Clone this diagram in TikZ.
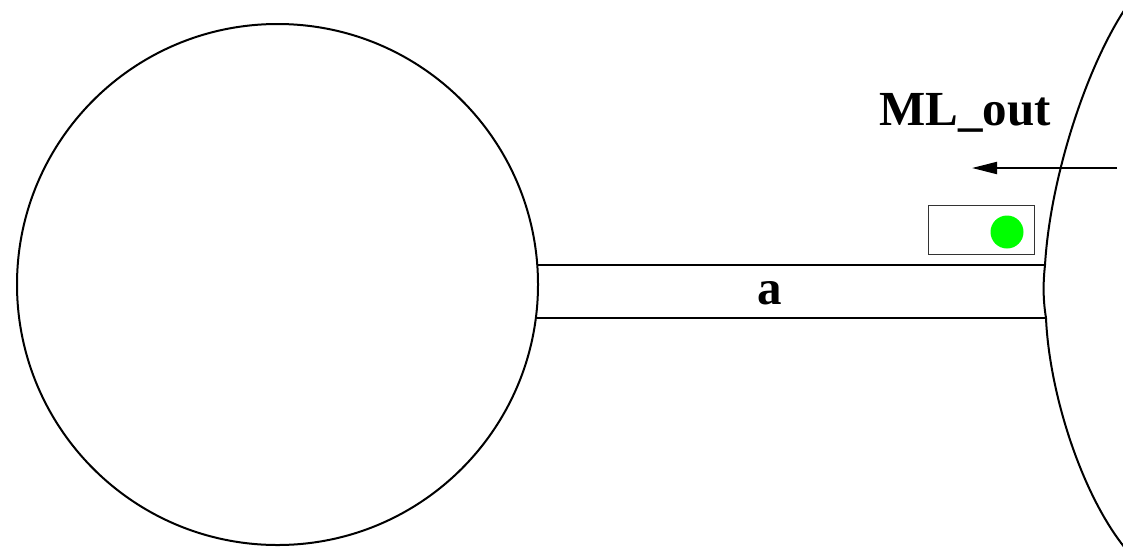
\documentclass[tikz,border=0pt]{standalone}
\usepackage{fontspec}
\setmainfont{Liberation Serif}
\usetikzlibrary{arrows.meta}
\begin{document}
\begin{tikzpicture}[x=1pt,y=-1pt,
  wire/.style={line width=2pt,black},
  lbl/.style={font=\fontsize{49}{58}\selectfont\bfseries,inner sep=0pt},
  boxstyle/.style={draw=black!80,line width=1pt,minimum width=106pt,minimum height=49pt,inner sep=0pt},
  dotstyle/.style={circle,fill=green,draw=none,minimum size=33pt,inner sep=0pt}]
\useasboundingbox (0,0) rectangle (1123,558);
\clip (0,0) rectangle (1123,558);
\node[circle,draw,line width=2pt,minimum size=521pt,inner sep=0pt] (big) at (277.5,284.5) {};
% right body boundary
\coordinate (rtop) at (1125,9);
\coordinate (chtopR) at (1045,265);
\coordinate (chbotR) at (1046,318);
\coordinate (rbot) at (1125,548);
\draw[wire] (rtop) .. controls (1085,70) and (1050,180) .. (chtopR)
  .. controls (1043,283) and (1043,300) .. (chbotR)
  .. controls (1049,390) and (1080,492) .. (rbot);
% channel
\coordinate (chtopL) at (537.3,265);
\coordinate (chbotL) at (537.3,318);
\draw[wire] (chtopL) -- (chtopR);
\draw[wire] (chbotL) -- (chbotR);
\node[lbl,anchor=base] (a) at (770,304) {a};
% ML_out label and arrow
\node[lbl,anchor=base west] (ml) at (879,125) {ML\_out};
\coordinate (arrS) at (1117,168);
\coordinate (arrE) at (972,168);
\draw[wire,-{Triangle[length=25pt,width=12pt]}] (arrS) -- (arrE);
% box with green dot
\node[boxstyle] (box) at (981,229.5) {};
\node[dotstyle] (dot) at (1007,232) {};
\end{tikzpicture}
\end{document}
